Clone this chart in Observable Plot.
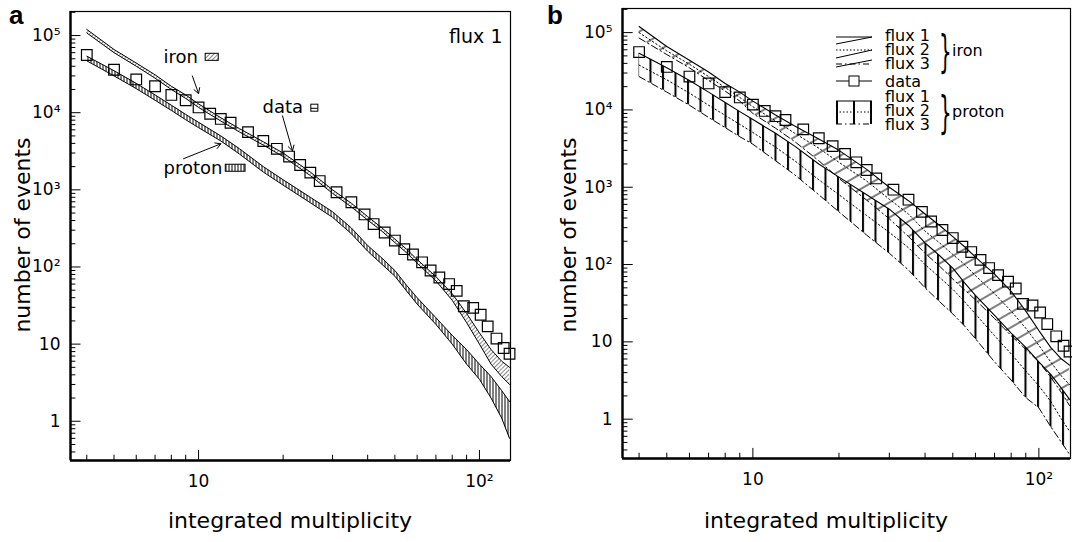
<!DOCTYPE html>
<html><head><meta charset="utf-8">
<script src="https://cdn.jsdelivr.net/npm/d3@7"></script>
<script src="https://cdn.jsdelivr.net/npm/@observablehq/plot@0.6"></script>
<style>
body{margin:0;background:#fff;font-family:"DejaVu Sans",sans-serif;}
#wrap{position:relative;width:1072px;height:542px;overflow:hidden;}
#pa{position:absolute;left:0;top:0}
#pb{position:absolute;left:536px;top:0}
.lab{position:absolute;font:bold 26px/30px "Liberation Sans",Arial,sans-serif;}
#leg{position:absolute;left:0;top:0}
</style></head><body>
<div id="wrap"><div id="pa"></div><div id="pb"></div>
<div class="lab" style="left:9px;top:0px">a</div>
<div class="lab" style="left:547px;top:0px">b</div>
<svg id="leg" width="1072" height="542" font-family="DejaVu Sans" font-size="16"></svg>
</div>
<script>
// ---- data ----
const mult = [4,5,6,7,8,9,10,12,14,17,20,25,30,35,40,45,50,55,60,70,80,90,100,110,120,128];
const ironFlux1Hi = [120000,66000,44000,31000,22000,17000,13000,8600,6200,4200,3000,1700,1000,670,450,320,230,170,125,75,45,25,14,8.5,6,5];
const ironFlux1Lo = [108000,60000,40000,28000,20000,15300,11700,7800,5600,3800,2700,1530,900,600,405,290,207,153,112,66,37,19,10,5.5,3.8,3.0];
const protFlux1Hi = [54000,35000,24000,17000,12500,9500,7500,5000,3400,2000,1350,800,520,320,190,130,90,58,40,22,13,8.5,5.5,3.8,2.5,1.8];
const protFlux1Lo = [47000,30000,20500,14500,10700,8100,6400,4300,2900,1700,1150,680,440,270,160,108,76,49,33,18,10,5.5,3.5,2.0,1.1,0.6];
const ironFlux2 = [100000,58000,39000,27000,19500,14500,11000,7200,5000,3200,2100,1200,700,450,270,190,135,100,72,42,25,15,9,5.5,3.6,2.8];
const ironFlux3 = [85000,52000,35000,24000,17500,13000,9000,5800,3900,2200,1300,680,390,230,140,95,65,47,35,20,12,8,5.5,3.5,2.2,1.5];
const protFlux2 = [38000,24500,16500,11500,8500,6500,5100,3300,2200,1250,800,430,260,165,100,68,48,33,23,12,7,4.2,2.7,1.7,1.0,0.7];
const protFlux3 = [27000,17000,11500,8000,5900,4500,3600,2200,1450,800,480,240,140,85,50,33,23,16,11,5.5,3.2,1.9,1.4,0.8,0.5,0.35];
const dataX = [4,5,6,7,8,9,10,11,12,13,15,17,19,21,23,25,27,31,35,39,42,46,50,54,58,62.5,67,72,78,83,88,95,101,107,115,122,128];
const dataY = [56000,36000,27000,22000,17000,14500,11700,9700,8300,7400,5600,4300,3400,2700,2100,1670,1300,930,690,480,360,280,220,170,145,115,90,73,60,49,31,29.5,24,17,11.8,8.9,7.5];
const yMajor = [1,10,100,1000,10000,100000];
const yLabels = ["1","10","10²","10³","10⁴","10⁵"];
const xMajor = [10,100];
const xLabels = ["10","10²"];
const yMinor = [0.4,0.5,0.6,0.7,0.8,0.9,2,3,4,5,6,7,8,9,20,30,40,50,60,70,80,90,200,300,400,500,600,700,800,900,2000,3000,4000,5000,6000,7000,8000,9000,20000,30000,40000,50000,60000,70000,80000,90000,200000];
const xMinor = [4,5,6,7,8,9,20,30,40,50,60,70,80,90];

const rows = mult.map((m,i)=>({m, ih:ironFlux1Hi[i], il:ironFlux1Lo[i], ph:protFlux1Hi[i], pl:protFlux1Lo[i], i2:ironFlux2[i], i3:ironFlux3[i], p2:protFlux2[i], p3:protFlux3[i]}));
const pts = dataX.map((x,i)=>({x,y:dataY[i]}));
const XD=[3.5,129], YD=[0.31,205000];
const tickF = (d)=>{const i=yMajor.indexOf(d);return i>=0?yLabels[i]:"";};
const tickX = (d)=>{const i=xMajor.indexOf(d);return i>=0?xLabels[i]:"";};

function axes(){
  return [
    Plot.ruleY(yMajor,{y:d=>d,x1:XD[0],x2:XD[0]*1.09,stroke:"#000"}),
    Plot.ruleY(yMinor,{y:d=>d,x1:XD[0],x2:XD[0]*1.045,stroke:"#000"}),
    Plot.ruleX(xMajor,{x:d=>d,y1:YD[0],y2:YD[0]*1.35,stroke:"#000"}),
    Plot.ruleX(xMinor,{x:d=>d,y1:YD[0],y2:YD[0]*1.17,stroke:"#000"}),
    Plot.axisY(yMajor,{tickSize:0,tickFormat:tickF,fontSize:17,tickPadding:10,label:null}),
    Plot.axisX(xMajor,{tickSize:0,tickFormat:tickX,fontSize:17,tickPadding:14,label:null}),
    Plot.frame({stroke:"#000",strokeWidth:1.2}),
    Plot.ruleX([XD[0]],{stroke:"#000",strokeWidth:2.4}),
    Plot.ruleY([YD[0]],{stroke:"#000",strokeWidth:2.4})
  ];
}
const common = (w,ml,mr,mt,mb)=>({width:w,height:542,marginLeft:ml,marginRight:mr,marginTop:mt,marginBottom:mb,
  x:{type:"log",domain:XD},y:{type:"log",domain:YD},style:{fontFamily:"DejaVu Sans",fontSize:"17px",color:"#000"}});
function addLabels(svg,cx,ly){
  const ns="http://www.w3.org/2000/svg";
  const t=document.createElementNS(ns,"text");
  t.setAttribute("transform",`translate(${ly},235) rotate(-90)`);t.setAttribute("text-anchor","middle");
  t.setAttribute("font-size","22");t.textContent="number of events";svg.appendChild(t);
  const u=document.createElementNS(ns,"text");
  u.setAttribute("x",cx);u.setAttribute("y",528);u.setAttribute("text-anchor","middle");
  u.setAttribute("font-size","22");u.textContent="integrated multiplicity";svg.appendChild(u);
}
function defs(svg,html){const d=document.createElementNS("http://www.w3.org/2000/svg","defs");d.innerHTML=html;svg.prepend(d);}

// ---- panel a ----
const A = Plot.plot({...common(536,70,26,11,82), marks:[
  Plot.areaY(rows,{x:"m",y1:"il",y2:"ih",fill:"url(#hd)"}),
  Plot.lineY(rows,{x:"m",y:"ih",stroke:"#000",strokeWidth:1}),
  Plot.lineY(rows,{x:"m",y:"il",stroke:"#000",strokeWidth:1}),
  Plot.areaY(rows,{x:"m",y1:"pl",y2:"ph",fill:"url(#hv)"}),
  Plot.lineY(rows,{x:"m",y:"ph",stroke:"#000",strokeWidth:1}),
  Plot.lineY(rows,{x:"m",y:"pl",stroke:"#000",strokeWidth:1}),
  Plot.dot(pts,{x:"x",y:"y",symbol:"square",r:6,stroke:"#000",strokeWidth:1.2,fill:"none"}),
  Plot.text(["flux 1"],{frameAnchor:"top-right",dx:-8,dy:18,fontSize:19}),
  Plot.text(["iron"],{x:[7.5],y:[5.2e4],textAnchor:"start",fontSize:18}),
  Plot.rect([0],{x1:10.6,x2:11.8,y1:4.7e4,y2:5.8e4,fill:"url(#hd)",stroke:"#000"}),
  Plot.arrow([0],{x1:9.5,y1:3.0e4,x2:10.0,y2:1.77e4,headLength:9,strokeWidth:1}),
  Plot.text(["data"],{x:[16.9],y:[1.16e4],textAnchor:"start",fontSize:18}),
  Plot.rect([0],{x1:25.2,x2:26.7,y1:10300,y2:12700,fill:"none",stroke:"#000"}),
  Plot.ruleY([11400],{x1:25.2,x2:26.7,stroke:"#000"}),
  Plot.arrow([0],{x1:19.9,y1:9100,x2:21.6,y2:3200,headLength:9,strokeWidth:1}),
  Plot.text(["proton"],{x:[7.5],y:[1930],textAnchor:"start",fontSize:18}),
  Plot.rect([0],{x1:12.5,x2:14.7,y1:1715,y2:2115,fill:"url(#hv)",stroke:"#000"}),
  Plot.arrow([0],{x1:8.84,y1:2530,x2:12.0,y2:3950,headLength:9,strokeWidth:1}),
  ...axes()
]});
defs(A,`<pattern id="hd" width="3" height="3" patternUnits="userSpaceOnUse" patternTransform="rotate(45)"><line x1="0" y1="0" x2="0" y2="3" stroke="#000" stroke-width="0.9"/></pattern>
<pattern id="hv" width="3" height="3" patternUnits="userSpaceOnUse"><line x1="1" y1="0" x2="1" y2="3" stroke="#000" stroke-width="1"/></pattern>`);
addLabels(A,290,30);
document.getElementById("pa").appendChild(A);

// ---- panel b ----
const B = Plot.plot({...common(536,86,2,8,84), marks:[
  Plot.areaY(rows,{x:"m",y1:"i3",y2:"ih",fill:"url(#bd)"}),
  Plot.areaY(rows,{x:"m",y1:"p3",y2:"ph",fill:"url(#bv)"}),
  Plot.lineY(rows,{x:"m",y:"ih",stroke:"#000",strokeWidth:1.1}),
  Plot.lineY(rows,{x:"m",y:"i2",stroke:"#000",strokeWidth:1,strokeDasharray:"1.5,2.5"}),
  Plot.lineY(rows,{x:"m",y:"i3",stroke:"#000",strokeWidth:1,strokeDasharray:"7,3,1.5,3"}),
  Plot.lineY(rows,{x:"m",y:"ph",stroke:"#000",strokeWidth:1.1}),
  Plot.lineY(rows,{x:"m",y:"p2",stroke:"#000",strokeWidth:1,strokeDasharray:"1.5,2.5"}),
  Plot.lineY(rows,{x:"m",y:"p3",stroke:"#000",strokeWidth:1,strokeDasharray:"7,3,1.5,3"}),
  Plot.dot(pts,{x:"x",y:"y",symbol:"square",r:6,stroke:"#000",strokeWidth:1.2,fill:"none"}),
  ...axes()
]});
defs(B,`<pattern id="bd" width="13" height="13" patternUnits="userSpaceOnUse" patternTransform="rotate(60)"><line x1="1" y1="0" x2="1" y2="13" stroke="#000" stroke-width="1"/></pattern>
<pattern id="bv" width="12.5" height="12" patternUnits="userSpaceOnUse"><line x1="2" y1="0" x2="2" y2="12" stroke="#000" stroke-width="2"/></pattern>`);
addLabels(B,290,40);
document.getElementById("pb").appendChild(B);

// ---- legend for panel b ----
document.getElementById("leg").innerHTML = `
<g stroke="#000" fill="none">
 <line x1="836" y1="37" x2="872" y2="37"/>
 <line x1="836" y1="44" x2="872" y2="37" stroke-width="1"/>
 <line x1="836" y1="50" x2="872" y2="50" stroke-dasharray="1.5,2"/>
 <line x1="836" y1="58" x2="872" y2="50"/>
 <line x1="836" y1="64" x2="872" y2="64" stroke-dasharray="6,3,1.5,3"/>
 <line x1="836" y1="67" x2="872" y2="60"/>
 <line x1="836" y1="81" x2="872" y2="81"/>
 <rect x="849" y="76" width="10" height="10" fill="#fff"/>
 <line x1="836" y1="101" x2="872" y2="101"/>
 <line x1="836" y1="112" x2="872" y2="112" stroke-dasharray="1.5,2"/>
 <line x1="836" y1="124" x2="872" y2="124" stroke-dasharray="6,3,1.5,3"/>
 <line x1="837" y1="101" x2="837" y2="124" stroke-width="2"/>
 <line x1="854" y1="101" x2="854" y2="124" stroke-width="2"/>
 <line x1="871" y1="101" x2="871" y2="124" stroke-width="2"/>
</g>
<g font-size="16">
 <text x="885" y="41">flux 1</text><text x="885" y="55">flux 2</text><text x="885" y="69">flux 3</text>
 <text x="885" y="87">data</text>
 <text x="885" y="102">flux 1</text><text x="885" y="116">flux 2</text><text x="885" y="130">flux 3</text>
 <text x="952" y="56">iron</text><text x="952" y="117">proton</text>
 <text x="939" y="67" font-size="44" transform="translate(939,0) scale(0.45,1) translate(-939,0)">}</text>
 <text x="939" y="128" font-size="44" transform="translate(939,0) scale(0.45,1) translate(-939,0)">}</text>
</g>`;
</script></body></html>
